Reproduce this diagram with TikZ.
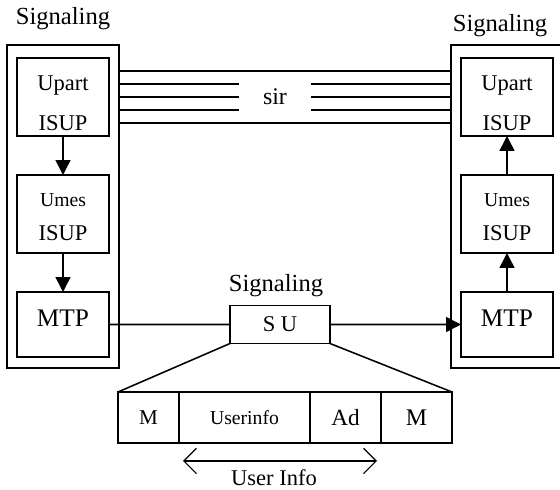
\documentclass[tikz,border=0pt]{standalone}
\usepackage{fontspec}
\setmainfont{Liberation Serif}
\usepackage{tikz}
\usetikzlibrary{arrows.meta}
\usetikzlibrary{calc}
\usetikzlibrary{positioning}
\newcommand{\fsz}[2]{\fontsize{#1}{#2}\selectfont}

\begin{document}
\begin{tikzpicture}[->,>={Triangle[length=10.5pt,width=10.5pt]},line width=1.1pt,node distance=3cm,
  main node/.style={rectangle,draw,inner sep=0pt,outer sep=0pt,align=center,minimum width=2.3cm},
  outer node/.style={rectangle,draw,inner sep=0pt,outer sep=0pt,minimum width=2.8cm,minimum height=8.075cm},
  cell node/.style={rectangle,draw,inner sep=0pt,outer sep=0pt,minimum height=1.275cm}]

    \useasboundingbox (0,0) rectangle (14,12.25);

    \node[outer node] (left-sp) at (1.575,7.0875) {};
    \node[outer node,on grid,right=11.1cm of left-sp] (right-sp) {};

    \node[main node,minimum height=1.95cm,font=\fsz{16}{29}] (left-upart) at (1.575,9.825) {\rule{0pt}{19.5pt}Upart\\ISUP};
    \node[main node,minimum height=1.95cm,font=\fsz{16}{24},on grid,below=2.925cm of left-upart] (left-umes) {{\fsz{14}{24}\rule{0pt}{13.5pt}Umes}\\ISUP};
    \node[main node,minimum height=1.625cm,font=\fsz{18}{20},on grid,below=2.7625cm of left-umes] (left-mtp) {MTP\rule[-8.5pt]{0pt}{8.5pt}};
    \node[main node,minimum height=1.95cm,font=\fsz{16}{29},on grid,right=11.1cm of left-upart] (right-upart) {\rule{0pt}{19.5pt}Upart\\ISUP};
    \node[main node,minimum height=1.95cm,font=\fsz{16}{24},on grid,right=11.1cm of left-umes] (right-umes) {{\fsz{14}{24}\rule{0pt}{13.5pt}Umes}\\ISUP};
    \node[main node,minimum height=1.625cm,font=\fsz{18}{20},on grid,right=11.1cm of left-mtp] (right-mtp) {MTP\rule[-8.5pt]{0pt}{8.5pt}};

    \node[font=\fsz{17.5}{20},anchor=base] (left-sig) at (1.575,11.625) {Signaling};
    \node[font=\fsz{17.5}{20},anchor=base] (right-sig) at (12.5,11.45) {Signaling};
    \node[font=\fsz{17.5}{20},anchor=base] (mid-sig) at (6.9,4.95) {Signaling};

    \node[font=\fsz{17}{20},minimum width=1.75cm,inner sep=0pt] (sir) at (6.875,9.825) {sir};
    \node[main node,minimum width=2.5cm,minimum height=0.95cm,font=\fsz{16}{20}] (su) at (7.0,4.1375) {S U};

    \node[cell node,minimum width=1.525cm,font=\fsz{15}{18}] (m-left) at (3.7125,1.8125) {M};
    \node[cell node,minimum width=3.275cm,font=\fsz{14}{18},right=0pt of m-left] (userinfo) {Userinfo};
    \node[cell node,minimum width=1.775cm,font=\fsz{16.5}{18},right=0pt of userinfo] (ad) {Ad};
    \node[cell node,minimum width=1.775cm,font=\fsz{17}{18},right=0pt of ad] (m-right) {M};

    \coordinate (ui-start) at ($(userinfo.south west)+(0.1,-0.45)$);
    \coordinate (ui-end) at ($(ad.south east)+(-0.1,-0.45)$);
    \node[font=\fsz{16}{18}] (user-info) at (6.85,0.3) {User Info};

    % signalling link
    \foreach \dy in {0.65,-0.65}
        \draw[-] ($(left-upart.center -| left-sp.east)+(0,\dy)$) -- ($(left-upart.center -| right-sp.west)+(0,\dy)$);
    \foreach \dy in {0.32,0,-0.32} {
        \draw[-] ($(left-upart.center -| left-sp.east)+(0,\dy)$) -- ($(sir.west)+(0,\dy)$);
        \draw[-] ($(sir.east)+(0,\dy)$) -- ($(left-upart.center -| right-sp.west)+(0,\dy)$);
    }

    \path
        (left-upart) edge (left-umes)
        (left-umes) edge (left-mtp)
        (right-mtp) edge (right-umes)
        (right-umes) edge (right-upart)
        (su.east) edge (right-mtp.west);

    \draw[-] (left-mtp.east) -- (su.west);
    \draw[-] (su.south west) -- (m-left.north west);
    \draw[-] (su.south east) -- (m-right.north east);

    \draw[{Straight Barb[length=9pt,width=18pt]}-{Straight Barb[length=9pt,width=18pt]},line width=0.8pt] (ui-start) -- (ui-end);

\end{tikzpicture}
\end{document}
